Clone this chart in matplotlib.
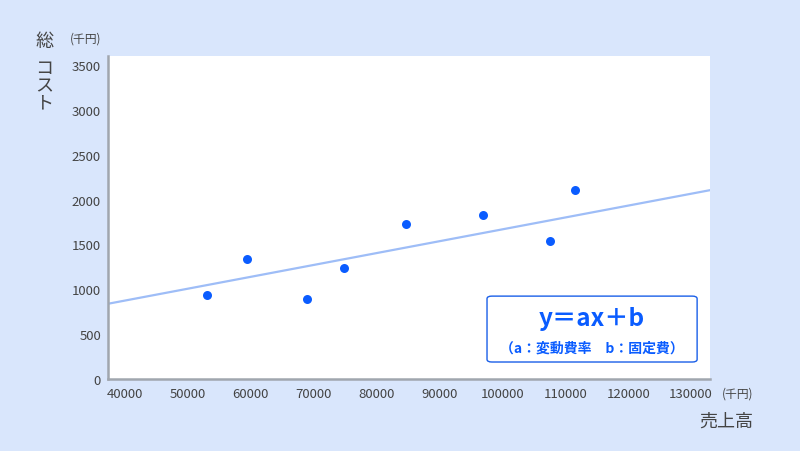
import matplotlib.pyplot as plt
from matplotlib.patches import FancyBboxPatch

plt.rcParams['font.family'] = ['Noto Sans CJK JP', 'DejaVu Sans']

# data (千円)
sales = [53000, 59400, 68900, 74800, 84700, 96900, 107600, 111600]
total_cost = [935, 1336, 891, 1236, 1723, 1823, 1537, 2112]
slope_a = 0.01323
fixed_b = 345

x_ticks = [40000, 50000, 60000, 70000, 80000, 90000, 100000, 110000, 120000, 130000]
y_ticks = [0, 500, 1000, 1500, 2000, 2500, 3000, 3500]
x_range = (37300, 133000)
y_range = (0, 3600)

bg = '#d9e6fc'
dot_blue = '#0a5cff'
line_blue = '#9ebdf7'
text_gray = '#444444'

fig = plt.figure(figsize=(8, 4.52), dpi=100, facecolor=bg)
ax = fig.add_axes([0.135, 0.1593, 0.7525, 0.7146])
ax.set_facecolor('white')

# trend line across the whole plotting range
ax.plot(x_range, [slope_a * x + fixed_b for x in x_range], color=line_blue, lw=1.6, zorder=2)
ax.scatter(sales, total_cost, s=42, color=dot_blue, zorder=3, linewidths=0)

ax.set_xlim(*x_range)
ax.set_ylim(*y_range)
ax.set_xticks(x_ticks)
ax.set_yticks(y_ticks)
ax.tick_params(length=0, labelsize=9.5, labelcolor=text_gray)
ax.tick_params(axis='x', pad=6)
ax.tick_params(axis='y', pad=5)

for side in ['top', 'right']:
    ax.spines[side].set_visible(False)
for side in ['left', 'bottom']:
    ax.spines[side].set_color('#a0a6ae')
    ax.spines[side].set_linewidth(1.8)

# axis titles
fig.text(44 / 800, 1 - 42 / 452, '総', ha='center', va='center', fontsize=13, color=text_gray)
fig.text(44 / 800, 1 - 86 / 452, 'コ\nス\nト', ha='center', va='center', fontsize=13,
         color=text_gray, linespacing=0.95)
fig.text(86 / 800, 1 - 39 / 452, '(千円)', ha='center', va='center', fontsize=8.5, color=text_gray)
fig.text(738 / 800, 1 - 394 / 452, '(千円)', ha='center', va='center', fontsize=8.5, color=text_gray)
fig.text(726 / 800, 1 - 422 / 452, '売上高', ha='center', va='center', fontsize=13, color=text_gray)

# formula box
box = FancyBboxPatch((0.6296, 0.0526), 0.349, 0.204, boxstyle='round,pad=0,rounding_size=0.008',
                     transform=ax.transAxes, facecolor='white', edgecolor='#1a5fe8', lw=1.0, zorder=4)
ax.add_patch(box)
ax.text(0.804, 1 - (319 - 57) / 323, 'y＝ax＋b', transform=ax.transAxes, ha='center', va='center',
        fontsize=17.5, fontweight='bold', color=dot_blue, zorder=5)
ax.text(0.804, 1 - (349 - 57) / 323, '（a：変動費率　b：固定費）', transform=ax.transAxes,
        ha='center', va='center', fontsize=10, fontweight='bold', color=dot_blue, zorder=5)

fig.savefig('out.png', dpi=100, facecolor=bg)
